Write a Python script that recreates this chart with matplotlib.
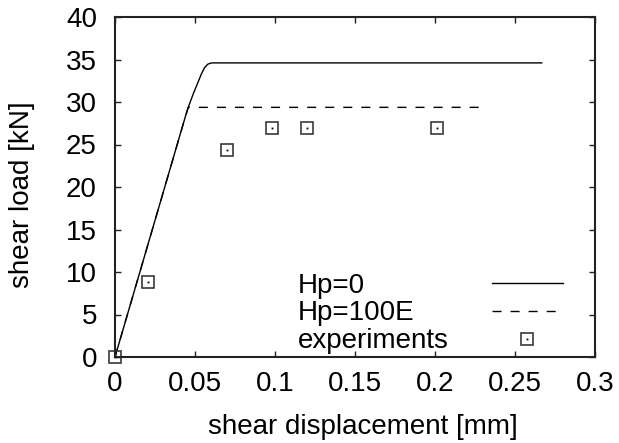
import matplotlib
matplotlib.use("Agg")
import matplotlib.pyplot as plt
from matplotlib.legend_handler import HandlerTuple

plt.rcParams['font.family'] = ['Liberation Sans', 'DejaVu Sans']

# Data
hp0_x = [0.0, 0.044, 0.0465, 0.049, 0.0515, 0.054, 0.056, 0.058, 0.0604, 0.2667]
hp0_y = [0.0, 28.3, 29.75, 31.0, 32.15, 33.3, 34.05, 34.45, 34.6, 34.6]
hp100_x = [0.0, 0.0457, 0.2308]
hp100_y = [0.0, 29.37, 29.37]
exp_x = [0.0, 0.0208, 0.0698, 0.0979, 0.1202, 0.201]
exp_y = [0.0, 8.86, 24.35, 26.9, 26.9, 26.9]

xticks = [0, 0.05, 0.1, 0.15, 0.2, 0.25, 0.3]
xtick_labels = ["0", "0.05", "0.1", "0.15", "0.2", "0.25", "0.3"]
yticks = [0, 5, 10, 15, 20, 25, 30, 35, 40]
ytick_labels = ["0", "5", "10", "15", "20", "25", "30", "35", "40"]
series_names = ["Hp=0", "Hp=100E", "experiments"]

FS = 20
DPI = 100

fig = plt.figure(figsize=(6.19, 4.43), dpi=DPI)
ax = fig.add_axes([115/619, 1-357/443, (595-115)/619, (357-17)/443])

l1, = ax.plot(hp0_x, hp0_y, color='black', lw=1.0)
l2, = ax.plot(hp100_x, hp100_y, color='black', lw=1.0, linestyle=(0, (6.5, 6.5)))
sq, = ax.plot(exp_x, exp_y, linestyle='none', marker='s', markersize=8.4,
              markerfacecolor='none', markeredgecolor='#3a3a3a', markeredgewidth=1.2, clip_on=False)
dt, = ax.plot(exp_x, exp_y, linestyle='none', marker='s', markersize=1.3,
              markerfacecolor='black', markeredgecolor='none', clip_on=False)

ax.set_xlim(0, 0.3)
ax.set_ylim(0, 40)
ax.set_xticks(xticks)
ax.set_xticklabels(xtick_labels)
ax.set_yticks(yticks)
ax.set_yticklabels(ytick_labels)
ax.tick_params(direction='in', length=4, width=1.0, color='#222222', top=True, right=True,
               labelsize=FS, pad=10)
ax.tick_params(axis='y', pad=13)
for s in ax.spines.values():
    s.set_linewidth(1.5)
    s.set_color('#222222')

ax.set_xlabel('shear displacement [mm]', fontsize=FS, labelpad=12)
ax.set_ylabel('shear load [kN]', fontsize=FS, labelpad=22)
ax.xaxis.label.set_x((363-115)/480)
ax.yaxis.label.set_y((357-195)/340)

leg = ax.legend([l1, l2, (sq, dt)], series_names,
                handler_map={tuple: HandlerTuple(ndivide=1, pad=0)},
                loc='center left', bbox_to_anchor=((298-115)/480, (357-313.5)/340),
                frameon=False, fontsize=FS, markerfirst=False, borderpad=0, borderaxespad=0,
                handlelength=2.55, handletextpad=1.76, labelspacing=0.07, numpoints=1)

# left-align legend labels while keeping the handles in one column
fig.canvas.draw()
r = fig.canvas.get_renderer()
widths = [t.get_window_extent(r).width for t in leg.texts]
col = leg._legend_handle_box.get_children()[0]
col.align = 'left'
handle_start_px = 492 - 298
for box, w in zip(col.get_children(), widths):
    box.sep = (handle_start_px - w) * 72.0 / DPI

fig.savefig('out.png', dpi=DPI)
